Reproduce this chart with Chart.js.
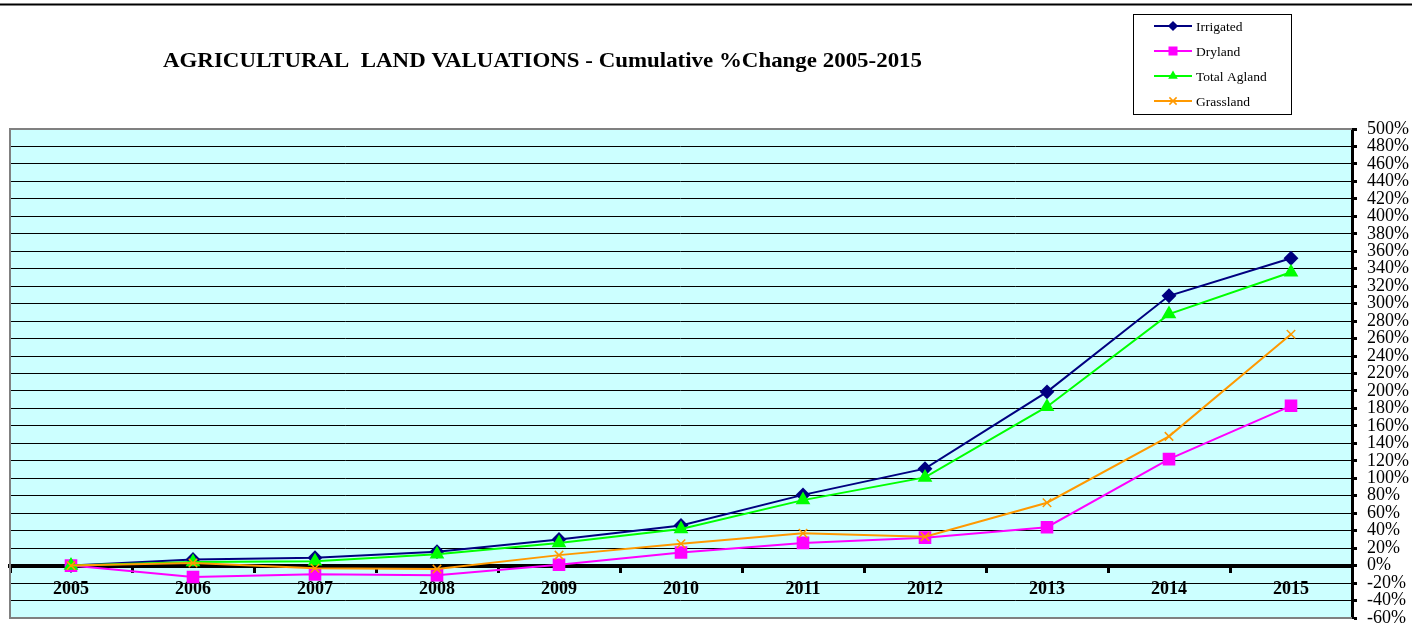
<!DOCTYPE html>
<html>
<head>
<meta charset="utf-8">
<script src="https://cdn.jsdelivr.net/npm/chart.js@4/dist/chart.umd.min.js"></script>
<style>
  html, body { margin: 0; padding: 0; background: #ffffff; }
  #wrap { position: relative; width: 1412px; height: 631px; }
</style>
</head>
<body>
<div id="wrap"><canvas id="c" width="1412" height="631"></canvas></div>
<script>
// ---- data ----
const years = ['2005','2006','2007','2008','2009','2010','2011','2012','2013','2014','2015'];
const irrigated  = [0, 7, 9, 16, 30, 46, 81, 111, 199, 309, 352];
const dryland    = [0, -13, -10, -11, 1, 15, 26, 32, 44, 122, 183];
const totalAgland= [0, 4, 5, 13, 26, 42, 75, 101, 182, 288, 336];
const grassland  = [0, 3, -3, -4, 12, 25, 37, 33, 72, 148, 265];
const seriesNames = ['Irrigated', 'Dryland', 'Total Agland', 'Grassland'];
const yMin = -60, yMax = 500, yStep = 20;
const titleText = 'AGRICULTURAL  LAND VALUATIONS - Cumulative %Change 2005-2015';

const SERIF = '"Liberation Serif", "Times New Roman", "DejaVu Serif", serif';
const styles = [
  { color: '#000080', point: 'rectRot', radius: 6, bw: 2 },
  { color: '#FF00FF', point: 'rect', radius: 7.5, bw: 2 },
  { color: '#00FF00', point: 'triangle', radius: 6.5, bw: 2 },
  { color: '#FF9900', point: 'crossRot', radius: 6, bw: 1.5 }
];
const seriesData = [irrigated, dryland, totalAgland, grassland];

function mkDataset(i) {
  const s = styles[i];
  return {
    label: seriesNames[i],
    data: seriesData[i],
    borderColor: s.color,
    backgroundColor: s.color,
    borderWidth: 2,
    pointStyle: s.point,
    pointRadius: s.radius,
    pointHoverRadius: s.radius,
    pointBackgroundColor: s.color,
    pointBorderColor: s.color,
    pointBorderWidth: s.bw,
    tension: 0,
    fill: false,
    order: [3, 2, 1, 0][i]
  };
}

function drawMarker(ctx, style, x, y) {
  const r = style.radius;
  ctx.save();
  ctx.fillStyle = style.color;
  ctx.strokeStyle = style.color;
  ctx.lineWidth = style.bw;
  ctx.beginPath();
  if (style.point === 'rectRot') {
    ctx.moveTo(x, y - r); ctx.lineTo(x + r, y); ctx.lineTo(x, y + r); ctx.lineTo(x - r, y); ctx.closePath();
    ctx.fill();
  } else if (style.point === 'rect') {
    const h = r * Math.SQRT1_2;
    ctx.rect(x - h, y - h, 2 * h, 2 * h); ctx.fill();
  } else if (style.point === 'triangle') {
    ctx.moveTo(x, y - r); ctx.lineTo(x + r * 0.866, y + r * 0.5); ctx.lineTo(x - r * 0.866, y + r * 0.5); ctx.closePath();
    ctx.fill();
  } else {
    const h = r * Math.SQRT1_2;
    ctx.moveTo(x - h, y - h); ctx.lineTo(x + h, y + h);
    ctx.moveTo(x + h, y - h); ctx.lineTo(x - h, y + h);
    ctx.stroke();
  }
  ctx.restore();
}

const decorPlugin = {
  id: 'decor',
  beforeDraw(chart) {
    const { ctx, chartArea: a } = chart;
    ctx.save();
    ctx.fillStyle = '#CCFFFF';
    ctx.fillRect(a.left, a.top, a.right - a.left, a.bottom - a.top);
    ctx.restore();
  },
  afterDraw(chart) {
    const { ctx, chartArea: a } = chart;
    ctx.save();
    // top rule
    ctx.strokeStyle = '#000';
    ctx.lineWidth = 2;
    ctx.beginPath(); ctx.moveTo(0, 4.5); ctx.lineTo(1412, 4.5); ctx.stroke();
    // plot border (grey)
    ctx.strokeStyle = '#808080';
    ctx.lineWidth = 2;
    ctx.beginPath();
    ctx.moveTo(a.right, a.top); ctx.lineTo(a.left, a.top); ctx.lineTo(a.left, a.bottom); ctx.lineTo(a.right, a.bottom);
    ctx.stroke();
    // title (fitted to the reference width)
    ctx.fillStyle = '#000';
    ctx.font = 'bold 21px ' + SERIF;
    ctx.textAlign = 'center';
    ctx.textBaseline = 'middle';
    const tw = ctx.measureText(titleText).width;
    const sx = 759 / tw;
    ctx.save();
    ctx.translate(542.5, 62);
    ctx.scale(sx, 1);
    ctx.fillText(titleText, 0, 0);
    ctx.restore();
    // legend
    ctx.strokeStyle = '#000';
    ctx.lineWidth = 1;
    ctx.strokeRect(1133.5, 14.5, 158, 100);
    const ys = [26, 51, 76, 101];
    ctx.font = '13.5px ' + SERIF;
    ctx.textAlign = 'left';
    ctx.textBaseline = 'middle';
    for (let i = 0; i < 4; i++) {
      const st = styles[i];
      ctx.strokeStyle = st.color;
      ctx.lineWidth = 2;
      ctx.beginPath(); ctx.moveTo(1154, ys[i]); ctx.lineTo(1192, ys[i]); ctx.stroke();
      drawMarker(ctx, { color: st.color, point: st.point, radius: st.radius * 0.85, bw: st.bw }, 1173, ys[i]);
      ctx.fillStyle = '#000';
      ctx.fillText(seriesNames[i], 1196, ys[i] + 1);
    }
    ctx.restore();
  }
};

new Chart(document.getElementById('c'), {
  type: 'line',
  data: { labels: years, datasets: [0, 1, 2, 3].map(mkDataset) },
  options: {
    responsive: false,
    animation: false,
    devicePixelRatio: 1,
    layout: { padding: { left: 10, top: 129, right: 0, bottom: 13 } },
    plugins: { legend: { display: false }, title: { display: false }, tooltip: { enabled: false } },
    scales: {
      x: {
        type: 'category',
        position: { y: 0 },
        offset: true,
        grid: { offset: true, drawOnChartArea: false, drawTicks: true, tickLength: 5, tickWidth: 3, tickColor: '#000' },
        border: { display: true, color: '#000', width: 4 },
        ticks: { color: '#000', font: { family: SERIF, size: 18, weight: 'bold' }, padding: 8, maxRotation: 0, autoSkip: false }
      },
      y: {
        position: 'right',
        min: yMin, max: yMax,
        afterFit(scale) { scale.width = 60; scale.paddingTop = 5; scale.paddingBottom = 5; },
        grid: { color: '#000', lineWidth: 1, drawTicks: true, tickLength: 5, tickWidth: 3, tickColor: '#000' },
        border: { display: true, color: '#000', width: 3 },
        ticks: {
          stepSize: yStep, autoSkip: false, color: '#000', padding: 10,
          font: { family: SERIF, size: 18 },
          callback: (v) => v + '%'
        }
      }
    }
  },
  plugins: [decorPlugin]
});
</script>
</body>
</html>
